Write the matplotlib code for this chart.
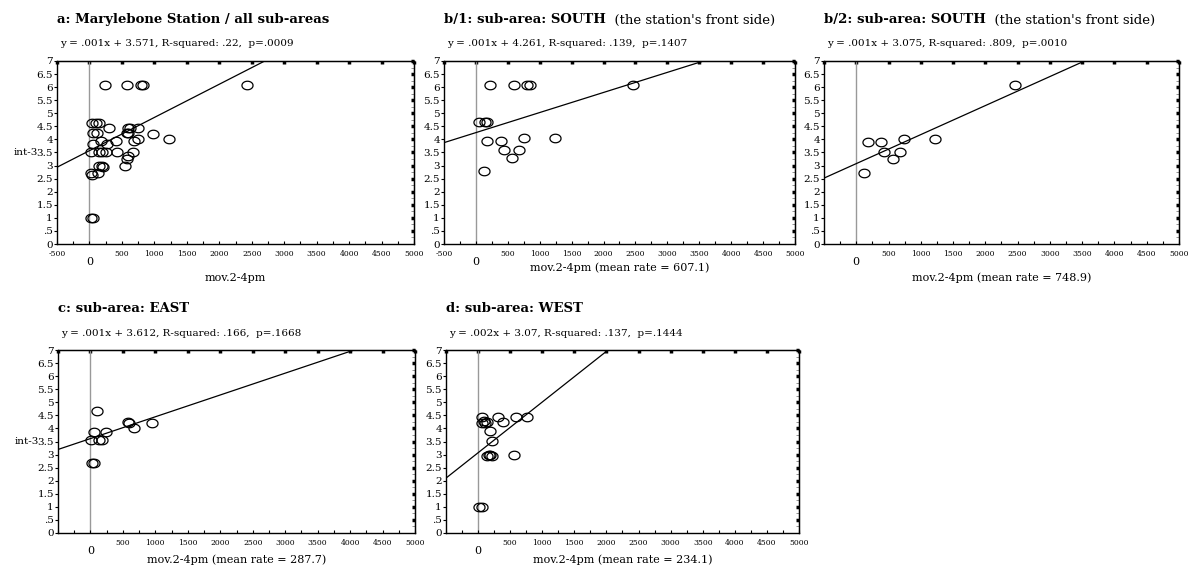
import numpy as np
import matplotlib
matplotlib.use("Agg")
import matplotlib.pyplot as plt

plt.rcParams['font.family'] = ['DejaVu Serif']

# ---- data ----
a_x = [240, 583, 787, 828, 2428, 40, 100, 150, 302, 598, 620, 752, 61, 123, 583, 600,
       976, 752, 1222, 174, 409, 680, 51, 266, 20, 153, 200, 250, 419, 670, 588, 583,
       148, 199, 547, 210, 20, 138, 46, 20, 61]
a_y = [6.08, 6.08, 6.08, 6.08, 6.08, 4.64, 4.64, 4.64, 4.43, 4.43, 4.43, 4.43, 4.24, 4.24, 4.24, 4.24,
       4.2, 4.03, 4.03, 3.94, 3.94, 3.94, 3.82, 3.82, 3.52, 3.52, 3.52, 3.52, 3.52, 3.52, 3.36, 3.26,
       3.0, 3.0, 3.0, 2.95, 2.71, 2.71, 2.63, 0.98, 0.98]

b1_x = [226, 600, 805, 847, 2468, 53, 137, 174, 179, 389, 753, 1232, 437, 668, 558, 121]
b1_y = [6.08, 6.08, 6.08, 6.08, 6.08, 4.66, 4.66, 4.66, 3.94, 3.94, 4.04, 4.04, 3.6, 3.6, 3.29, 2.78]

b2_x = [2466, 187, 389, 741, 1223, 430, 679, 575, 119]
b2_y = [6.08, 3.91, 3.91, 4.0, 4.0, 3.5, 3.5, 3.25, 2.7]

c_x = [97, 56, 246, 15, 138, 180, 26, 51, 585, 595, 667, 954]
c_y = [4.67, 3.86, 3.86, 3.55, 3.55, 3.55, 2.68, 2.68, 4.23, 4.19, 4.0, 4.21]

d_x = [57, 57, 90, 135, 115, 306, 389, 596, 762, 181, 223, 171, 187, 135, 212, 554, 10, 67]
d_y = [4.44, 4.22, 4.3, 4.25, 4.2, 4.42, 4.23, 4.42, 4.42, 3.91, 3.51, 3.0, 3.0, 2.94, 2.94, 2.98, 1.0, 1.0]

# regression lines (slope, intercept) as drawn
fits = [(0.00127, 3.571), (0.000768, 4.261), (0.00111, 3.075), (0.000834, 3.612), (0.00194, 3.07)]

titles = ["a: Marylebone Station / all sub-areas",
          "b/1: sub-area: SOUTH",
          "b/2: sub-area: SOUTH",
          "c: sub-area: EAST",
          "d: sub-area: WEST"]
title_extra = ["", "  (the station's front side)", "  (the station's front side)", "", ""]
subtitles = ["y = .001x + 3.571, R-squared: .22,  p=.0009",
             "y = .001x + 4.261, R-squared: .139,  p=.1407",
             "y = .001x + 3.075, R-squared: .809,  p=.0010",
             "y = .001x + 3.612, R-squared: .166,  p=.1668",
             "y = .002x + 3.07, R-squared: .137,  p=.1444"]
xlabels = ["mov.2-4pm",
           "mov.2-4pm (mean rate = 607.1)",
           "mov.2-4pm (mean rate = 748.9)",
           "mov.2-4pm (mean rate = 287.7)",
           "mov.2-4pm (mean rate = 234.1)"]
xs = [a_x, b1_x, b2_x, c_x, d_x]
ys = [a_y, b1_y, b2_y, c_y, d_y]

W, H = 1197, 566
# pixel boxes: left, right, top, bottom
boxes = [(57, 414, 61, 244), (444, 795, 61, 244), (824, 1179, 61, 244),
         (58, 415, 350, 533), (446, 799, 350, 533)]
show_neg = [True, True, False, False, False]
show_ylab = [True, False, False, True, False]
xlab_y = [278, 268, 278, 560, 560]

t = np.linspace(0, 2 * np.pi, 40)
ell = list(zip(1.3 * np.cos(t), np.sin(t)))

fig = plt.figure(figsize=(W / 100, H / 100), dpi=100)

for i in range(5):
    l, r, tp, b = boxes[i]
    ax = fig.add_axes([l / W, 1 - b / H, (r - l) / W, (b - tp) / H])
    ax.set_xlim(-500, 5000)
    ax.set_ylim(0, 7)
    ax.axvline(0, color='0.6', lw=1, zorder=1)
    ax.plot(xs[i], ys[i], linestyle='none', marker=ell, markersize=8,
            markerfacecolor='none', markeredgecolor='black', markeredgewidth=0.9, zorder=3)
    k, c0 = fits[i]
    lx = np.array([-500, 5000])
    ax.plot(lx, k * lx + c0, color='black', lw=0.9, zorder=2)

    for s in ax.spines.values():
        s.set_linewidth(1)

    xt = list(range(500, 5001, 500))
    if show_neg[i]:
        xt = [-500] + xt
    ax.set_xticks(xt)
    ax.set_xticklabels([str(v) for v in xt], fontsize=5.5)
    ax.set_xticks(np.arange(-500, 5001, 250), minor=True)
    ax.tick_params(axis='x', which='both', direction='in', length=2.5, width=0.8, pad=4)
    ax.text(0, -0.07, "0", transform=ax.get_xaxis_transform(), ha='center', va='top', fontsize=8)

    yt = np.arange(0, 7.01, 0.5)
    ax.set_yticks(yt)
    ax.set_yticklabels(["0" if v == 0 else (".5" if v == 0.5 else ("%g" % v)) for v in yt], fontsize=7.5)
    ax.tick_params(axis='y', direction='out', length=2, width=0.8, pad=1)

    top = ax.secondary_xaxis('top')
    top.set_xticks(np.arange(-500, 5001, 500))
    top.tick_params(direction='in', length=2.5, width=2.5, labeltop=False)
    rgt = ax.secondary_yaxis('right')
    rgt.set_yticks(np.arange(0.5, 7.01, 0.5))
    rgt.set_yticks(np.arange(0.25, 7.01, 0.5), minor=True)
    rgt.tick_params(which='major', direction='in', length=2.5, width=2.5, labelright=False)
    rgt.tick_params(which='minor', direction='in', length=2.5, width=0.6, color='0.5')

    if show_ylab[i]:
        ax.annotate("int-3", xy=(0, 3.5), xycoords=ax.get_yaxis_transform(),
                    xytext=(-14, 0), textcoords='offset points', ha='right', va='center', fontsize=7.5)

    ttl = fig.text(l / W, 1 - (tp - 41) / H, titles[i], fontsize=9.5, fontweight='bold', va='center')
    if title_extra[i]:
        ax.annotate(title_extra[i], xy=(1, 0), xycoords=ttl, va='bottom', fontsize=9.5)
    fig.text((l + 3) / W, 1 - (tp - 17) / H, subtitles[i], fontsize=7.5, va='center')
    fig.text((l + r) / 2 / W, 1 - xlab_y[i] / H, xlabels[i], fontsize=8, ha='center', va='center')

fig.savefig("out.png", dpi=100)
